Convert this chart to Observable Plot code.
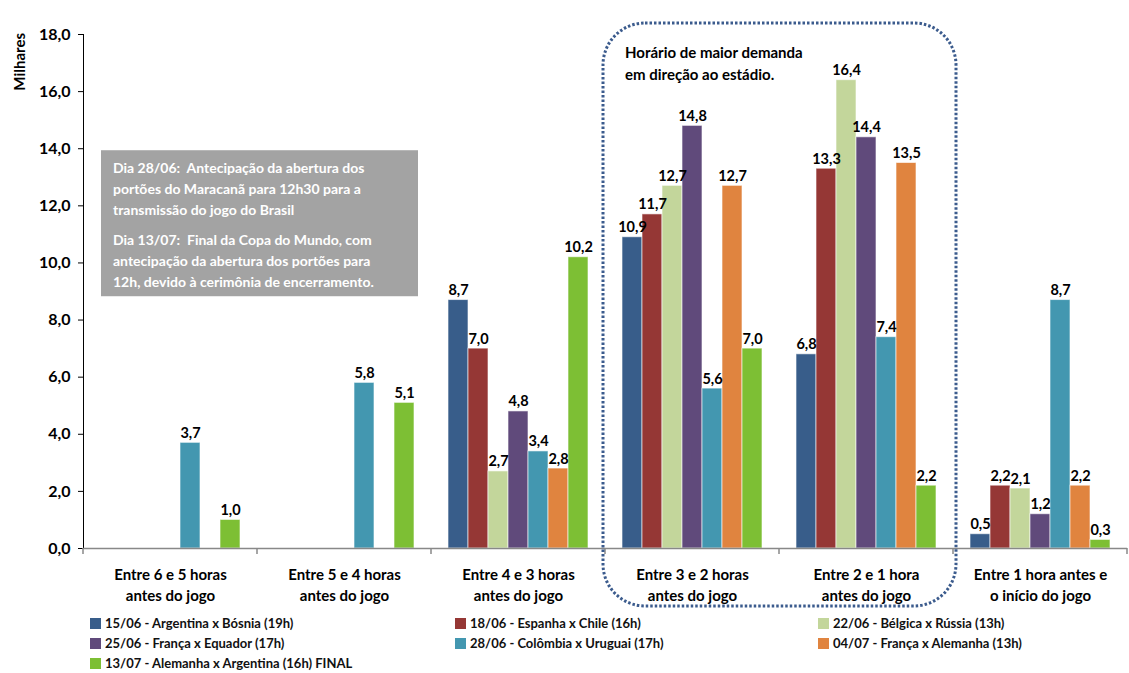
<!DOCTYPE html>
<html>
<head>
<meta charset="utf-8">
<script src="https://cdn.jsdelivr.net/npm/d3@7"></script>
<script src="https://cdn.jsdelivr.net/npm/@observablehq/plot@0.6"></script>
<style>
  body { margin: 0; background: #fff; font-family: Lato, "Open Sans", sans-serif; }
  #wrap { position: relative; width: 1129px; height: 673px; overflow: hidden; }
  #chart svg [aria-label="y-axis tick"] { stroke: #888; }
  #chart svg [aria-label="y-axis line"] { stroke: #888; }
  #chart svg [aria-label="y-axis tick label"] { font-size: 16px; }
  #legend { display: grid; grid-template-columns: 365px 363px 300px; row-gap: 2px; margin-left: 90px; margin-top: 2px;
            font: bold 13px Lato, sans-serif; color: #111; }
  #legend .it { display: flex; align-items: center; height: 18px; white-space: nowrap; }
  #legend .sw { width: 11px; height: 11px; margin-right: 4px; }
</style>
</head>
<body>
<div id="wrap">
  <div id="chart"></div>
  <div id="legend"></div>
</div>
<script>
const groups = [
  "Entre 6 e 5 horas\nantes do jogo",
  "Entre 5 e 4 horas\nantes do jogo",
  "Entre 4 e 3 horas\nantes do jogo",
  "Entre 3 e 2 horas\nantes do jogo",
  "Entre 2 e 1 hora\nantes do jogo",
  "Entre 1 hora antes e\no início do jogo"
];
const series = [
  "15/06 - Argentina x Bósnia (19h)",
  "18/06 - Espanha x Chile (16h)",
  "22/06 - Bélgica x Rússia (13h)",
  "25/06 - França x Equador (17h)",
  "28/06 - Colômbia x Uruguai (17h)",
  "04/07 - França x Alemanha (13h)",
  "13/07 - Alemanha x Argentina (16h) FINAL"
];
const colors = ["#385d8a", "#953735", "#c3d69b", "#604a7b", "#4397b0", "#e0843f", "#7dbf34"];

// values (milhares) per series, by group; null = no bar
const argentinaBosnia   = [null, null, 8.7, 10.9, 6.8, 0.5];
const espanhaChile      = [null, null, 7.0, 11.7, 13.3, 2.2];
const belgicaRussia     = [null, null, 2.7, 12.7, 16.4, 2.1];
const francaEquador     = [null, null, 4.8, 14.8, 14.4, 1.2];
const colombiaUruguai   = [3.7, 5.8, 3.4, 5.6, 7.4, 8.7];
const francaAlemanha    = [null, null, 2.8, 12.7, 13.5, 2.2];
const alemanhaArgentina = [1.0, 5.1, 10.2, 7.0, 2.2, 0.3];

const yTicks = [0, 2, 4, 6, 8, 10, 12, 14, 16, 18];

const noteLines1 = ["Dia 28/06:  Antecipação da abertura dos", "portões do Maracanã para 12h30 para a", "transmissão do jogo do Brasil"];
const noteLines2 = ["Dia 13/07:  Final da Copa do Mundo, com", "antecipação da abertura dos portões para", "12h, devido à cerimônia de encerramento."];
const highlightLines = ["Horário de maior demanda", "em direção ao estádio."];

const valuesBySeries = [argentinaBosnia, espanhaChile, belgicaRussia, francaEquador, colombiaUruguai, francaAlemanha, alemanhaArgentina];
const data = [];
valuesBySeries.forEach((vals, si) => vals.forEach((v, gi) => {
  if (v != null) data.push({group: groups[gi], series: series[si], value: v});
}));
const fmt = v => v.toFixed(1).replace(".", ",");

const chart = Plot.plot({
  width: 1129,
  height: 612,
  marginLeft: 80,
  marginRight: 0,
  marginTop: 34,
  marginBottom: 64,
  style: {fontFamily: "Lato, sans-serif", fontSize: "15px", fontWeight: "bold", color: "#000", background: "transparent"},
  fx: {domain: groups, padding: 0, axis: null, label: null},
  x: {domain: series, paddingInner: 0, paddingOuter: 0.75, axis: null, label: null},
  y: {domain: [0, 18], ticks: yTicks, tickFormat: fmt, tickSize: 5, tickPadding: 8, line: true, label: null},
  color: {domain: series, range: colors},
  marks: [
    Plot.barY(data, {fx: "group", x: "series", y: "value", fill: "series", stroke: "#fff", strokeOpacity: 0.6, strokeWidth: 1}),
    Plot.text(data, {fx: "group", x: "series", y: "value", text: d => fmt(d.value), lineAnchor: "bottom", dy: -5, fontSize: 14.5, fontWeight: "bold", fill: "#000"}),
    Plot.ruleY([0], {stroke: "#888", strokeWidth: 1.5}),
    Plot.text(groups, {fx: d => d, text: d => d, frameAnchor: "bottom", lineAnchor: "top", dy: 17, lineHeight: 1.4, fontSize: 15, fontWeight: "bold", fill: "#000"})
  ]
});
document.getElementById("chart").appendChild(chart);

// decorations using the plot's scales
const svg = d3.select(chart);
const fxs = chart.scale("fx");
const ys = chart.scale("y");
const bw = fxs.bandwidth;
const fxPos = g => fxs.apply(g);
const yPos = v => ys.apply(v);
const y0 = yPos(0);

// group separator ticks
const edges = groups.map(fxPos).concat([fxPos(groups[groups.length - 1]) + bw]);
svg.append("g").selectAll("line").data(edges).join("line")
  .attr("x1", d => d).attr("x2", d => d).attr("y1", y0).attr("y2", y0 + 6)
  .attr("stroke", "#888").attr("stroke-width", 1.5);

// y label
svg.append("text").text("Milhares")
  .attr("transform", `translate(25,${yPos(18) - 1}) rotate(-90)`)
  .attr("text-anchor", "end").attr("font-size", 15).attr("font-weight", "bold").attr("fill", "#000");

// note box
const bx = fxPos(groups[0]) + 18, by = yPos(14) + 2;
const note = svg.append("g");
note.append("rect").attr("x", bx).attr("y", by).attr("width", 317).attr("height", 146).attr("fill", "#a3a3a3");
const nt = note.append("text").attr("fill", "#fff").attr("font-size", 14).attr("font-weight", "bold").attr("text-anchor", "start");
noteLines1.forEach((l, i) => nt.append("tspan").attr("x", bx + 12).attr("y", by + 23 + i * 21).text(l));
noteLines2.forEach((l, i) => nt.append("tspan").attr("x", bx + 12).attr("y", by + 95 + i * 21).text(l));

// highlight dotted rounded box around groups 4 and 5
const hx0 = fxPos(groups[3]) - 2, hx1 = fxPos(groups[4]) + bw + 3;
svg.append("rect").attr("x", hx0).attr("y", 23).attr("width", hx1 - hx0).attr("height", 583)
  .attr("rx", 42).attr("ry", 42).attr("fill", "none").attr("stroke", "#3b5b8d")
  .attr("stroke-width", 3).attr("stroke-dasharray", "2.5 2");
const ht = svg.append("text").attr("font-size", 15).attr("font-weight", "bold").attr("fill", "#000").attr("text-anchor", "start");
highlightLines.forEach((l, i) => ht.append("tspan").attr("x", hx0 + 22).attr("y", 58 + i * 22).text(l));

// legend
const leg = d3.select("#legend");
series.forEach((s, i) => {
  const it = leg.append("div").attr("class", "it");
  it.append("div").attr("class", "sw").style("background", colors[i]);
  it.append("span").text(s);
});
</script>
</body>
</html>
